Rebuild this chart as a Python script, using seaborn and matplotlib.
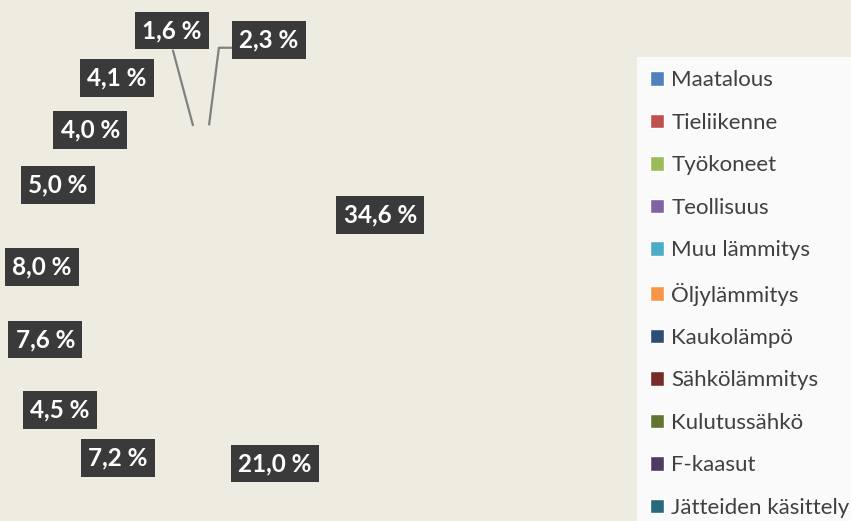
import numpy as np
import matplotlib.pyplot as plt
import seaborn as sns

# data, clockwise from 12 o'clock
categories = ['Maatalous', 'Tieliikenne', 'Työkoneet', 'Teollisuus', 'Muu lämmitys',
              'Öljylämmitys', 'Kaukolämpö', 'Sähkölämmitys', 'Kulutussähkö', 'F-kaasut',
              'Jätteiden käsittely']
shares = [2.3, 34.6, 21.0, 7.2, 4.5, 7.6, 8.0, 5.0, 4.0, 4.1, 1.6]
hex_colors = ['#4F81BD', '#C0504D', '#9BBB59', '#8064A2', '#4BACC6', '#F79646',
              '#2C4D75', '#772C2A', '#5F7530', '#4D3B62', '#276A7C']

# label layout (Excel best-fit): radius and angle nudge per label
label_radius = [1.77, 1.47, 1.81, 1.79, 1.70, 1.43, 1.27, 1.25, 1.30, 1.53, 1.77]
label_shift = [14.0, 8.4, -10.0, -19.9, -21.3, -24.3, -28.4, -21.1, -14.4, -12.3, -4.1]

sns.set_theme(style='white')
plt.rcParams['font.family'] = ['Lato', 'DejaVu Sans']

W, H, dpi = 851, 521, 100
bg = '#EEECE1'
fig = plt.figure(figsize=(W / dpi, H / dpi), dpi=dpi, facecolor=bg)
ax = fig.add_axes([0, 0, 1, 1])
ax.set_facecolor(bg)

palette = sns.color_palette(hex_colors)
wedges, _ = ax.pie(shares, colors=palette, startangle=90, counterclock=False, radius=1.0,
                   center=(0, 0))

# pixel layout: pie centre at (200, 250) px, radius 125 px
cx, cy, r_px = 200, 250, 125
ax.set_xlim(-cx / r_px, (W - cx) / r_px)
ax.set_ylim(-(H - cy) / r_px, cy / r_px)
ax.set_aspect('auto')
ax.axis('off')

cum = np.cumsum([0] + shares[:-1])
mids = (cum + np.array(shares) / 2) * 3.6
for i, (v, m) in enumerate(zip(shares, mids)):
    a = np.radians(m + label_shift[i])
    lx, ly = label_radius[i] * np.sin(a), label_radius[i] * np.cos(a)
    txt = f'{v:.1f} %'.replace('.', ',')
    ax.text(lx, ly, txt, ha='center', va='center', color='white', fontsize=17.5,
            fontweight='bold',
            bbox=dict(boxstyle='square,pad=0.3', facecolor='#3A3A3A', edgecolor='none'))
    # leader lines for the two thin slices at the top
    ex, ey = np.sin(np.radians(m)), np.cos(np.radians(m))
    if i == 0:
        ax.plot([ex, lx - 0.40, lx - 0.29], [ey, ly - 0.064, ly - 0.064],
                color='#808080', lw=1.6, solid_capstyle='butt')
    elif i == len(shares) - 1:
        ax.plot([ex, lx + 0.01], [ey, ly - 0.16], color='#808080', lw=1.6)

leg = fig.legend(wedges, categories, loc='upper left', bbox_to_anchor=(637 / W, 1 - 57 / H),
                 frameon=True, fancybox=False, facecolor='#FAFAFA', edgecolor='none',
                 framealpha=1, fontsize=16, labelcolor='#404040',
                 handlelength=0.63, handleheight=0.63, handletextpad=0.32,
                 labelspacing=1.01, borderpad=0.6, borderaxespad=0)
for w in wedges:
    w.set_visible(False)

fig.savefig('out.png', dpi=dpi, facecolor=bg)
